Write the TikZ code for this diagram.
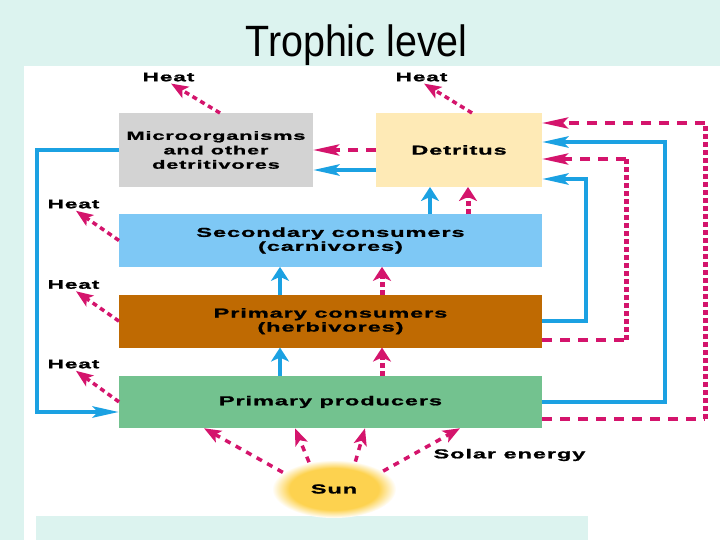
\documentclass[tikz,border=0pt]{standalone}
\usepackage{fontspec}
\setmainfont{Liberation Sans}
\newfontfamily\wideSans{Liberation Sans}[FakeStretch=1.82,LetterSpace=7,BoldFeatures={FakeBold=1.2}]
\newfontfamily\titleSans{Liberation Sans}[FakeStretch=0.9]
\usetikzlibrary{arrows.meta,positioning,shapes.geometric}
\definecolor{bgCyan}{HTML}{DCF3EF}
\definecolor{heatPink}{HTML}{D4146C}
\definecolor{flowBlue}{HTML}{1BA1E2}
\definecolor{microFill}{HTML}{D3D3D3}
\definecolor{detritusFill}{HTML}{FEEAB6}
\definecolor{carnFill}{HTML}{7EC8F5}
\definecolor{herbFill}{HTML}{BF6A02}
\definecolor{prodFill}{HTML}{73C28F}
\definecolor{sunFill}{HTML}{FDD24F}
\pgfdeclareradialshading{sunGlow}{\pgfpoint{0bp}{0bp}}{%
  color(0bp)=(sunFill); color(18bp)=(sunFill); color(25bp)=(white)}

\begin{document}
\begin{tikzpicture}[
    x=1bp, y=-1bp,
    node distance=28bp,
    font=\wideSans\bfseries\fontsize{13}{14}\selectfont,
    levelNode/.style={
        rectangle, inner sep=0pt, outer sep=0pt,
        minimum width=423bp, minimum height=52.7bp,
        align=center
    },
    topNode/.style={
        rectangle, inner sep=0pt, outer sep=0pt,
        minimum height=74bp, align=center
    },
    sunNode/.style={
        ellipse, shade, shading=sunGlow,
        minimum width=124bp, minimum height=58bp, inner sep=0pt
    },
    heatLabel/.style={font=\wideSans\bfseries\fontsize{12.5}{14}\selectfont, inner sep=0.5bp},
    blueFlow/.style={draw=flowBlue, line width=4.5bp},
    pinkDash/.style={draw=heatPink, line width=4bp, dash pattern=on 10bp off 8bp},
    pinkDot/.style={draw=heatPink, line width=5bp, dash pattern=on 5bp off 3bp},
    heatDash/.style={draw=heatPink, line width=3.5bp, dash pattern=on 5bp off 4bp, shorten >=3bp},
    sunRay/.style={draw=heatPink, line width=3.5bp, dash pattern=on 6bp off 6bp},
    hTip/.style={-{Stealth[length=26bp, width=11bp, inset=5bp]}},
    vTip/.style={-{Stealth[length=14bp, width=18bp, inset=4bp]}},
    dTip/.style={-{Stealth[length=17bp, width=13bp, inset=4bp]}}
]

% Layout plan: three stacked levels, detritus loops on both sides, sun below.
\useasboundingbox (0,0) rectangle (720,540);
\fill[bgCyan] (0,0) rectangle (720,540);
\fill[white] (24,66) rectangle (720,540);
\fill[bgCyan] (36,516) rectangle (588,540);

\node[font=\titleSans\fontsize{44}{48}\selectfont, anchor=base] (Title) at (356.5,57) {Trophic level};

\node[topNode, fill=microFill, minimum width=194bp,
  font=\wideSans\bfseries\fontsize{12}{14.5}\selectfont] (Micro) at (216,150)
  {Microorganisms\\and other\\detritivores};
\node[topNode, fill=detritusFill, minimum width=166bp] (Detritus) at (459,150) {Detritus};

\node[levelNode, fill=carnFill] (Carnivores) at (330.5,240.5) {Secondary consumers\\(carnivores)};
\node[levelNode, fill=herbFill, below=of Carnivores] (Herbivores) {Primary consumers\\(herbivores)};
\node[levelNode, fill=prodFill, below=of Herbivores] (Producers) {Primary producers};

\node[sunNode] (Sun) at (334,489) {Sun};
\node[anchor=west] (Solar) at (430,455) {Solar energy};

\node[heatLabel] (HeatMicro) at (168.5,77) {Heat};
\node[heatLabel] (HeatDetritus) at (421.5,77) {Heat};
\node[heatLabel] (HeatCarn) at (73.5,204) {Heat};
\node[heatLabel] (HeatHerb) at (73.5,284.5) {Heat};
\node[heatLabel] (HeatProd) at (73.5,364) {Heat};

\coordinate (LoopTop) at (37,150);
\coordinate (LoopBottom) at (37,412);
\coordinate (ColBlue) at (280,0);
\coordinate (ColPink) at (382,0);
\coordinate (ColBlueUp) at (430,0);
\coordinate (ColPinkUp) at (468,0);
\coordinate (OuterLow) at (705,419);
\coordinate (OuterHigh) at (705,123);
\coordinate (BlueOuterHigh) at (665,142);
\coordinate (InnerLow) at (626,340);
\coordinate (InnerHigh) at (626,159);
\coordinate (BlueInnerHigh) at (586,179);

% heat losses
\draw[heatDash, dTip] ([xshift=4bp]Micro.north) -- (HeatMicro.south);
\draw[heatDash, dTip] ([xshift=13bp]Detritus.north) -- (HeatDetritus.south);
\draw[heatDash, dTip] (Carnivores.west) -- (HeatCarn.south);
\draw[heatDash, dTip] (Herbivores.west) -- (HeatHerb.south);
\draw[heatDash, dTip] (Producers.west) -- (HeatProd.south);

% up the food chain
\draw[blueFlow, vTip] (Producers.north -| ColBlue) -- (Herbivores.south -| ColBlue);
\draw[blueFlow, vTip] (Herbivores.north -| ColBlue) -- (Carnivores.south -| ColBlue);
\draw[pinkDot, vTip] (Producers.north -| ColPink) -- (Herbivores.south -| ColPink);
\draw[pinkDot, vTip] (Herbivores.north -| ColPink) -- (Carnivores.south -| ColPink);
\draw[blueFlow, vTip] (Carnivores.north -| ColBlueUp) -- (Detritus.south -| ColBlueUp);
\draw[pinkDot, vTip] (Carnivores.north -| ColPinkUp) -- (Detritus.south -| ColPinkUp);

% detritus loops
\draw[pinkDash, hTip] (Detritus.west) -- (Micro.east);
\draw[blueFlow, hTip] ([yshift=-20bp]Detritus.west) -- ([yshift=-20bp]Micro.east);
\draw[blueFlow, hTip] (Micro.west) -- (LoopTop) -- (LoopBottom) -- (LoopBottom -| Producers.west);

\draw[blueFlow, hTip] (Herbivores.east) -| (BlueInnerHigh) -- (BlueInnerHigh -| Detritus.east);
\draw[pinkDash] (Herbivores.east |- InnerLow) -- (InnerLow);
\draw[pinkDot] (InnerLow) -- (InnerHigh);
\draw[pinkDash, hTip] (InnerHigh) -- (InnerHigh -| Detritus.east);

\draw[blueFlow, hTip] (Producers.east) -| (BlueOuterHigh) -- (BlueOuterHigh -| Detritus.east);
\draw[pinkDash] (Producers.east |- OuterLow) -- (OuterLow);
\draw[pinkDot] (OuterLow) -- (OuterHigh);
\draw[pinkDash, hTip] (OuterHigh) -- (OuterHigh -| Detritus.east);

% sunlight
\draw[sunRay, dTip] (Sun.162) -- ([xshift=-126.5bp]Producers.south);
\draw[sunRay, dTip] (Sun.133) -- ([xshift=-35.5bp]Producers.south);
\draw[sunRay, dTip] (Sun.52) -- ([xshift=34.5bp]Producers.south);
\draw[sunRay, dTip] (Sun.20) -- ([xshift=129.5bp]Producers.south);

\end{tikzpicture}
\end{document}
